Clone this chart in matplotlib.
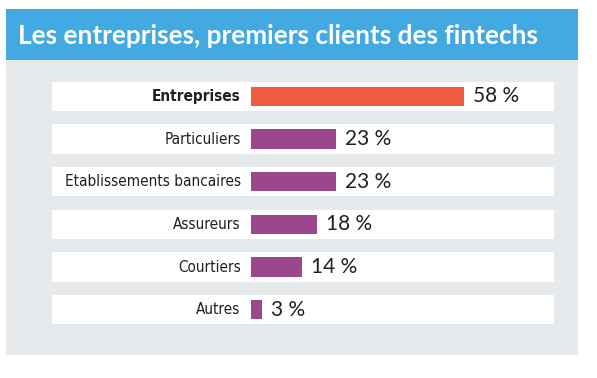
import matplotlib.pyplot as plt
from matplotlib.patches import Rectangle

categories = ["Entreprises", "Particuliers", "Etablissements bancaires",
              "Assureurs", "Courtiers", "Autres"]
values = [58, 23, 23, 18, 14, 3]
value_labels = ["58 %", "23 %", "23 %", "18 %", "14 %", "3 %"]
title = "Les entreprises, premiers clients des fintechs"

BLUE = "#42A9E1"
GREY = "#E7EAED"
ORANGE = "#F05A40"
PURPLE = "#9A478E"
TEXT = "#231F20"

W, H = 597, 378
fig = plt.figure(figsize=(W / 100, H / 100), dpi=100)
fig.patch.set_facecolor("white")


def px_rect(x0, y0, x1, y1, color):
    # pixel coords, measured from top-left
    fig.add_artist(Rectangle((x0 / W, 1 - y1 / H), (x1 - x0) / W, (y1 - y0) / H,
                             transform=fig.transFigure, color=color, lw=0, zorder=0))


px_rect(6, 9, 578, 60, BLUE)
px_rect(6, 60, 578, 355, GREY)
t = fig.text(18 / W, 1 - 44.5 / H, title, color="white", fontsize=18,
             fontweight="bold", family="Lato", va="baseline", ha="left")
# shrink title so it spans about 520 px like the original
r = fig.canvas.get_renderer()
w = t.get_window_extent(r).width
t.set_fontsize(18 * 520 / w)

# axes spanning the white rows: x pixel 52..554, y pixel 75..331
ax = fig.add_axes([52 / W, 1 - 331 / H, (554 - 52) / W, (331 - 75) / H])
ax.set_facecolor("none")
scale = 213.3 / 58  # pixels per percent
ax.set_xlim(-(251 - 52) / scale, (554 - 251) / scale)
ax.set_ylim(len(categories) - 0.5, -0.5)
ax.axis("off")

xmin, xmax = ax.get_xlim()
for i, (cat, v, lab) in enumerate(zip(categories, values, value_labels)):
    ax.barh(i, xmax - xmin, left=xmin, height=29 / 42.6, color="white", lw=0)
    ax.barh(i, v, height=19.5 / 42.6, color=ORANGE if i == 0 else PURPLE, lw=0)
    ax.text(-10.3 / scale, i, cat, ha="right", va="center", fontsize=11,
            family="DejaVu Sans", fontstretch="condensed",
            fontweight="bold" if i == 0 else "normal", color=TEXT)
    ax.text(v + 9 / scale, i, lab, ha="left", va="center", fontsize=15,
            family="Lato", color=TEXT)

fig.savefig("out.png", dpi=100)
